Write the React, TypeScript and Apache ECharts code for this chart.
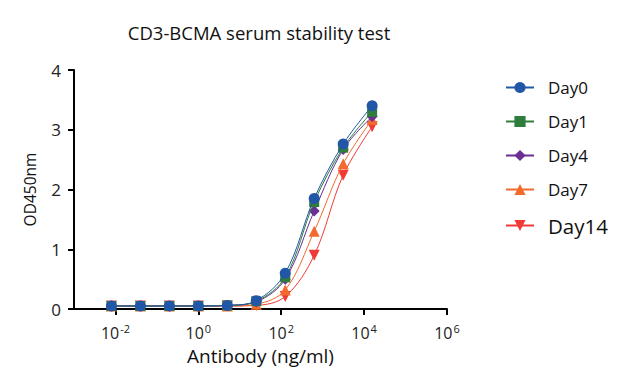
import React, { useEffect, useRef } from "react";
import * as echarts from "echarts";

const concentrations = [0.008, 0.04, 0.2, 1, 5, 25, 125, 625, 3125, 15625];
const day0 = [0.05, 0.05, 0.05, 0.05, 0.06, 0.14, 0.6, 1.85, 2.76, 3.4];
const day1 = [0.05, 0.05, 0.05, 0.05, 0.06, 0.13, 0.53, 1.79, 2.7, 3.3];
const day4 = [0.05, 0.05, 0.05, 0.05, 0.06, 0.12, 0.5, 1.64, 2.67, 3.22];
const day7 = [0.05, 0.05, 0.05, 0.05, 0.05, 0.08, 0.32, 1.3, 2.43, 3.17];
const day14 = [0.05, 0.05, 0.05, 0.05, 0.05, 0.06, 0.21, 0.9, 2.24, 3.05];
const seriesNames = ["Day0", "Day1", "Day4", "Day7", "Day14"];
const xTicks = [0.01, 1, 100, 10000, 1000000];

const colors = ["#2157A6", "#2F7D3D", "#6B2E93", "#F26A2D", "#EF3A36"];
const symbols = [
  "circle",
  "rect",
  "diamond",
  "triangle",
  "path://M0,0L10,0L5,9Z",
];
const sizes = [11, 10, 11, 11, 11];
const FONT = "Open Sans";

export default function App() {
  const ref = useRef<HTMLDivElement>(null);
  useEffect(() => {
    const chart = echarts.init(ref.current!, null, { renderer: "svg" });
    const allData = [day0, day1, day4, day7, day14];
    const series = allData
      .map((vals, i) => ({
        name: seriesNames[i],
        type: "line",
        smooth: 0.35,
        data: concentrations.map((c, j) => [c, vals[j]]),
        symbol: symbols[i],
        symbolSize: sizes[i],
        showSymbol: true,
        z: 10 - i,
        lineStyle: { width: 1, color: colors[i] },
        itemStyle: { color: colors[i] },
        emphasis: { disabled: true },
      }))
      .reverse();
    chart.setOption({
      animation: false,
      title: {
        text: "CD3-BCMA serum stability test",
        left: 254,
        textAlign: "center",
        top: 18,
        textStyle: { fontFamily: FONT, fontSize: 18.5, fontWeight: "normal", color: "#111" },
      },
      legend: {
        orient: "vertical",
        left: 500,
        top: 74,
        itemGap: 17,
        itemWidth: 28,
        itemHeight: 14,
        data: seriesNames,
        formatter: (n: string) => (n === "Day14" ? `{big|${n}}` : `{n|${n}}`),
        textStyle: {
          fontFamily: FONT,
          color: "#111",
          padding: [0, 0, 0, 9],
          rich: {
            n: { fontFamily: FONT, fontSize: 17, color: "#111" },
            big: { fontFamily: FONT, fontSize: 20.5, color: "#111" },
          },
        },
      },
      grid: { left: 74, right: 178, top: 70, bottom: 81, containLabel: false },
      xAxis: {
        type: "log",
        logBase: 10,
        min: 0.001,
        max: 1000000,
        name: "Antibody (ng/ml)",
        nameLocation: "middle",
        nameGap: 37,
        nameTextStyle: { fontFamily: FONT, fontSize: 19, color: "#111" },
        axisLine: { lineStyle: { color: "#000", width: 2 } },
        axisTick: { show: true, length: 6, lineStyle: { color: "#000", width: 2 }, customValues: xTicks },
        splitLine: { show: false },
        minorTick: { show: false },
        axisLabel: {
          customValues: xTicks,
          margin: 14,
          formatter: (v: number) => `{b|10}{s|${Math.round(Math.log10(v))}}`,
          rich: {
            b: { fontFamily: FONT, fontSize: 16, color: "#222" },
            s: { fontFamily: FONT, fontSize: 11, color: "#222", verticalAlign: "top", padding: [0, 0, 8, 1] },
          },
        },
      },
      yAxis: {
        type: "value",
        min: 0,
        max: 4,
        interval: 1,
        name: "OD450nm",
        nameLocation: "middle",
        nameGap: 36,
        nameTextStyle: { fontFamily: FONT, fontSize: 15.5, color: "#111" },
        axisLine: { show: true, lineStyle: { color: "#000", width: 2 } },
        axisTick: { show: true, length: 6, lineStyle: { color: "#000", width: 2 } },
        splitLine: { show: false },
        axisLabel: { fontFamily: FONT, fontSize: 17, color: "#222", margin: 13 },
      },
      series,
    });
    return () => chart.dispose();
  }, []);
  return <div ref={ref} style={{ width: 625, height: 390, marginLeft: -8, marginTop: -8 }} />;
}
